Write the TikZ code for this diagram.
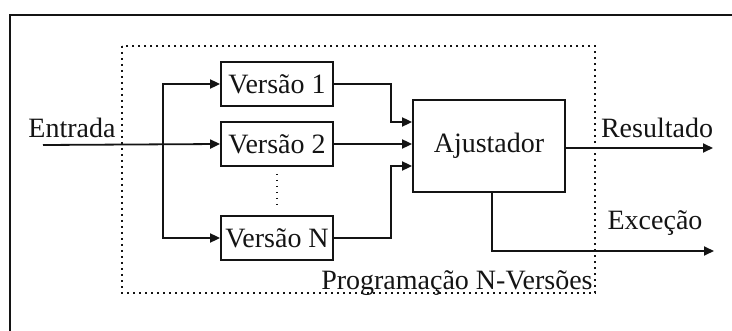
\documentclass[tikz,border=0pt]{standalone}
\usepackage{fontspec}
\setmainfont{Liberation Serif}
\usetikzlibrary{arrows.meta,positioning,calc}
\definecolor{ink}{RGB}{20,20,20}

\begin{document}
\begin{tikzpicture}[
    x=0.5pt,y=-0.5pt,
    >={Triangle[length=5pt,width=4.5pt]},
    text=ink,
    every node/.style={font=\fontsize{14}{16}\selectfont},
    box/.style={
        draw=ink,
        line width=0.9pt,
        inner sep=0pt,
        align=center
    },
    verbox/.style={box, minimum width=56pt, minimum height=22pt},
    lbl/.style={text=ink, inner sep=0pt},
    arr/.style={->, line width=0.9pt, draw=ink},
    ln/.style={line width=0.9pt, draw=ink},
    dotbox/.style={draw=ink, line width=1pt, dash pattern=on 0.8pt off 2.2pt}
]
\useasboundingbox (0,0) rectangle (732,331);

% Outer frame
\draw[ln] (10,331) -- (10,15) -- (732,15);

% N-version programming region
\draw[dotbox] (122,46) rectangle (595,293);
\node[lbl, anchor=base east] (nvp) at (593,289) {Programação N-Versões};

% Versions
\node[verbox] (v1) at (277,84) {Versão 1};
\node[verbox] (v2) at (277,144) {Versão 2};
\node[verbox] (vn) at (277,238) {Versão N};
\draw[dotbox] ([yshift=-3.5pt]v2.south) -- ([yshift=3.5pt]vn.north);

% Adjudicator
\node[box, minimum width=76pt, minimum height=46pt] (ajust) at (489,146) {Ajustador};

% Input
\node[lbl] (entrada) at (72,128) {Entrada};
\coordinate (inp) at (43,145);
\coordinate (split) at (163,145);
\draw[arr] (inp) -- (v2.west);
\draw[arr] (split) |- (v1.west);
\draw[arr] (split) |- (vn.west);

% Versions to adjudicator
\draw[arr] (v1.east) -- ++(57,0) |- ([yshift=12pt]ajust.west);
\draw[arr] (v2.east) -- (v2.east -| ajust.west);
\draw[arr] (vn.east) -- ++(57,0) |- ([yshift=-10pt]ajust.west);

% Outputs
\node[lbl] (res) at (657,128) {Resultado};
\node[lbl] (exc) at (655,223) {Exceção};
\coordinate (resend) at (713,148);
\coordinate (excend) at (714,251);
\draw[arr] ([yshift=-1pt]ajust.east) -- (ajust.east |- resend) -- (resend);
\draw[arr] ([xshift=1.5pt]ajust.south) |- (excend);

\end{tikzpicture}
\end{document}
